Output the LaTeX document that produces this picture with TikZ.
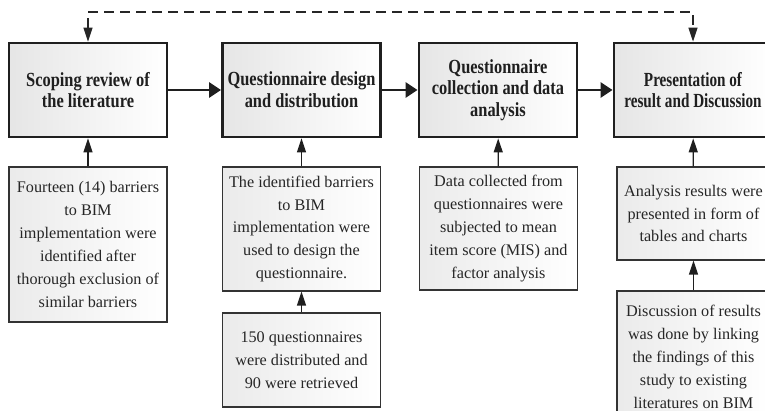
\documentclass[tikz,border=0pt]{standalone}
\usepackage{fontspec}
\setmainfont{Liberation Serif}
\newfontfamily\headfont[FakeStretch=0.82]{Liberation Serif}
\newfontfamily\headnarrow[FakeStretch=0.76]{Liberation Serif}
\usetikzlibrary{arrows.meta}

\begin{document}
\begin{tikzpicture}[x=1pt,y=-1pt,
  mainbox/.style={draw=black!88, line width=2.8pt, left color=black!10, right color=white,
    minimum width=158pt, minimum height=94pt, inner sep=0pt, align=center,
    font=\headfont\bfseries\fontsize{20}{21.7}\selectfont, text=black!88},
  subbox/.style={draw=black!80, line width=1.1pt, left color=black!8, right color=white,
    minimum width=158pt, inner sep=0pt, align=center,
    font=\fontsize{16.2}{22.9}\selectfont, text=black!85},
  flow/.style={line width=2.8pt, draw=black!88, -{Triangle[length=12pt,width=15pt]}},
  feed/.style={line width=1.2pt, draw=black!88, -{Triangle[length=14pt,width=9pt]}},
  loopback/.style={line width=1.2pt, draw=black!85, dash pattern=on 10pt off 6pt,
    {Triangle[length=14pt,width=9pt]}-{Triangle[length=14pt,width=9pt]}},
]
\clip (0,0) rectangle (765,411);

% main process steps
\node[mainbox] (b1) at (88,90) {Scoping review of\\the literature};
\node[mainbox] (b2) at (301.5,90) {Questionnaire design\\and distribution};
\node[mainbox] (b3) at (498,90) {Questionnaire\\collection and data\\analysis};
\node[mainbox, font=\headnarrow\bfseries\fontsize{20}{21.7}\selectfont] (b4) at (693,90)
  {Presentation of\\result and Discussion};

% supporting notes
\node[subbox, minimum height=155pt] (s1) at (88,244.5)
  {Fourteen (14) barriers\\to BIM\\implementation were\\identified after\\thorough exclusion of\\similar barriers};
\node[subbox, minimum height=124pt] (s2) at (301.5,229)
  {The identified barriers\\to BIM\\implementation were\\used to design the\\questionnaire.};
\node[subbox, minimum height=94pt] (s2b) at (301.5,360)
  {150 questionnaires\\were distributed and\\90 were retrieved};
\node[subbox, minimum height=123pt] (s3) at (498.5,228.5)
  {Data collected from\\questionnaires were\\subjected to mean\\item score (MIS) and\\factor analysis};
\node[subbox, minimum width=153pt, minimum height=93pt] (s4) at (693.5,213.5)
  {Analysis results were\\presented in form of\\tables and charts};
\node[subbox, minimum width=153pt, minimum height=132pt] (s4b) at (693.5,357)
  {Discussion of results\\was done by linking\\the findings of this\\study to existing\\literatures on BIM};

% main flow
\draw[flow] (b1) -- (b2);
\draw[flow] (b2) -- (b3);
\draw[flow] (b3) -- (b4);

% notes feeding the steps
\draw[feed] (s1) -- (b1);
\draw[feed] (s2) -- (b2);
\draw[feed] (s2b) -- (s2);
\draw[feed] (s3) -- (b3);
\draw[feed] (s4) -- (b4);
\draw[feed] (s4b) -- (s4);

% feedback loop over the top
\coordinate (top) at (0,12);
\draw[loopback] (b1.north) -- (b1.north |- top) -- (b4.north |- top) -- (b4.north);
\end{tikzpicture}
\end{document}
